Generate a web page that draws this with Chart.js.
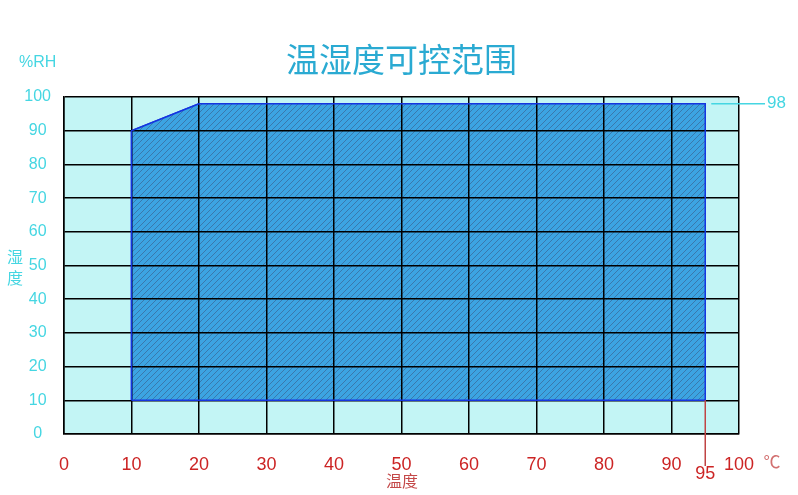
<!doctype html>
<html>
<head>
<meta charset="utf-8">
<title>温湿度可控范围</title>
<script src="https://cdn.jsdelivr.net/npm/chart.js@4/dist/chart.umd.min.js"></script>
<style>
	body { margin: 0; background: #fff; }
	canvas { display: block; }
</style>
</head>
<body>
<canvas id="canvas" width="798" height="495"></canvas>
<script>
	// axis ticks
	var tempTicks = [0, 10, 20, 30, 40, 50, 60, 70, 80, 90, 100];
	var humTicks = [0, 10, 20, 30, 40, 50, 60, 70, 80, 90, 100];

	// controllable zone outline (temperature, humidity), closed
	var zoneTemp = [10, 10, 20, 95, 95, 10];
	var zoneHum = [10, 90, 98, 98, 10, 10];
	var zoneBase = 10;

	// marked limits
	var maxTemp = 95;
	var maxHum = 98;

	var chartTitle = '温湿度可控范围';
	var xTitle = '温度';
	var yTitle = '湿度';
	var yUnit = '%RH';
	var xUnit = '℃';

	function hatch() {
		var c = document.createElement('canvas');
		c.width = 6; c.height = 6;
		var g = c.getContext('2d');
		g.fillStyle = '#3ca4e2';
		g.fillRect(0, 0, 6, 6);
		g.strokeStyle = '#3a6e9e';
		g.lineWidth = 0.8;
		g.beginPath();
		g.moveTo(-1, 7); g.lineTo(7, -1);
		g.moveTo(-4, 4); g.lineTo(4, -4);
		g.moveTo(2, 10); g.lineTo(10, 2);
		g.stroke();
		return g.createPattern(c, 'repeat');
	}

	var outline = [];
	for (var i = 0; i < zoneTemp.length; i++) {
		outline.push({x: zoneTemp[i], y: zoneHum[i]});
	}
	// the filler needs an open path: drop the closing point
	var area = outline.slice(0, -1);

	var decor = {
		id: 'decor',
		beforeDraw: function(chart) {
			var ctx = chart.ctx, a = chart.chartArea;
			ctx.save();
			ctx.fillStyle = '#fff';
			ctx.fillRect(0, 0, chart.width, chart.height);
			ctx.fillStyle = '#c3f5f5';
			ctx.fillRect(a.left, a.top, a.right - a.left, a.bottom - a.top);
			ctx.restore();
		},
		afterDraw: function(chart) {
			var ctx = chart.ctx, a = chart.chartArea;
			var xs = chart.scales.x, ys = chart.scales.y;
			ctx.save();
			// outline on top of the grid
			chart.getDatasetMeta(1).dataset.draw(ctx, a);

			ctx.textAlign = 'center';
			ctx.textBaseline = 'middle';

			ctx.fillStyle = '#2aaad2';
			ctx.font = '33px "Noto Sans CJK SC"';
			ctx.fillText(chartTitle, (a.left + a.right) / 2, 59);

			ctx.fillStyle = '#45d6e2';
			ctx.font = '16px "Liberation Sans"';
			ctx.textAlign = 'left';
			ctx.fillText(yUnit, 19, 63);
			ctx.textAlign = 'center';
			ctx.font = '16px "Noto Sans CJK SC"';
			ctx.fillText(yTitle.charAt(0), 15, 257);
			ctx.fillText(yTitle.charAt(1), 15, 278);

			ctx.fillStyle = '#c44848';
			ctx.fillText(xTitle, 402, 481);
			ctx.fillStyle = '#d27070';
			ctx.font = '17px "Noto Sans CJK SC"';
			ctx.fillText(xUnit, 772, 462);

			// temperature limit
			var px = xs.getPixelForValue(maxTemp);
			ctx.strokeStyle = '#c04444';
			ctx.lineWidth = 1.5;
			ctx.beginPath();
			ctx.moveTo(px, ys.getPixelForValue(zoneBase));
			ctx.lineTo(px, 466);
			ctx.stroke();
			ctx.fillStyle = '#cc2424';
			ctx.font = '18px "Liberation Sans"';
			ctx.fillText(String(maxTemp), px, 474);

			// humidity limit
			var py = ys.getPixelForValue(maxHum);
			ctx.strokeStyle = '#45d6e2';
			ctx.beginPath();
			ctx.moveTo(px + 6, py);
			ctx.lineTo(765, py);
			ctx.stroke();
			ctx.fillStyle = '#45d6e2';
			ctx.textAlign = 'left';
			ctx.font = '17px "Liberation Sans"';
			ctx.fillText(String(maxHum), 767, py);
			ctx.restore();
		}
	};

	var ctx = document.getElementById('canvas').getContext('2d');
	new Chart(ctx, {
		type: 'line',
		data: {
			datasets: [{
				data: area,
				fill: {value: zoneBase},
				backgroundColor: hatch(),
				borderWidth: 0,
				pointRadius: 0,
				tension: 0
			}, {
				data: outline,
				fill: false,
				borderColor: '#1535e0',
				borderWidth: 1.5,
				pointRadius: 0,
				tension: 0
			}]
		},
		options: {
			responsive: false,
			animation: false,
			devicePixelRatio: 1,
			layout: {padding: {top: 97, right: 59, left: 0, bottom: 0}},
			plugins: {legend: {display: false}, tooltip: {enabled: false}},
			scales: {
				x: {
					type: 'linear', min: 0, max: 100,
					afterBuildTicks: function(s) { s.ticks = tempTicks.map(function(v) { return {value: v}; }); },
					afterFit: function(s) { s.height = 61; },
					grid: {color: '#000', lineWidth: 1.5, drawTicks: false, z: 1},
					border: {color: '#000', width: 1.5, z: 1},
					ticks: {color: '#cc2424', font: {size: 18, family: 'Liberation Sans'}, padding: 20, maxRotation: 0}
				},
				y: {
					type: 'linear', min: 0, max: 100,
					afterBuildTicks: function(s) { s.ticks = humTicks.map(function(v) { return {value: v}; }); },
					afterFit: function(s) { s.width = 64; },
					grid: {color: '#000', lineWidth: 1.5, drawTicks: false, z: 1},
					border: {color: '#000', width: 1.5, z: 1},
					ticks: {color: '#45d6e2', font: {size: 16, family: 'Liberation Sans'}, padding: 13, crossAlign: 'center'}
				}
			}
		},
		plugins: [decor]
	});
</script>
</body>
</html>
